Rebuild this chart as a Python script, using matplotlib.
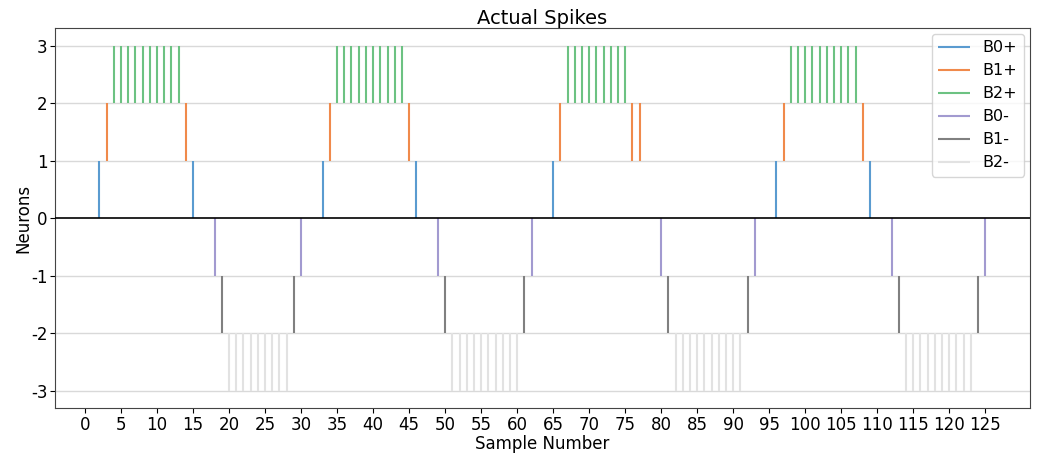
import numpy as np
import matplotlib
matplotlib.use("Agg")
import matplotlib.pyplot as plt

# spike times (sample numbers) for each neuron
b0_pos = [2, 15, 33, 46, 65, 96, 109]
b1_pos = [3, 14, 34, 45, 66, 76, 77, 97, 108]
b2_pos = list(range(4, 14)) + list(range(35, 45)) + list(range(67, 76)) + list(range(98, 108))
b0_neg = [18, 30, 49, 62, 80, 93, 112, 125]
b1_neg = [19, 29, 50, 61, 81, 92, 113, 124]
b2_neg = list(range(20, 29)) + list(range(51, 61)) + list(range(82, 92)) + list(range(114, 124))

names = ["B0+", "B1+", "B2+", "B0-", "B1-", "B2-"]
levels = [(0, 1), (1, 2), (2, 3), (0, -1), (-1, -2), (-2, -3)]
colors = ["#5a9bd0", "#f08a4b", "#6cc282", "#a29ad0", "#808080", "#e2e2e2"]
spikes = [b0_pos, b1_pos, b2_pos, b0_neg, b1_neg, b2_neg]

fig = plt.figure(figsize=(10.4, 4.57), dpi=100)
ax = fig.add_axes([0.053, 0.107, 0.937, 0.831])

for y in [-3, -2, -1, 1, 2, 3]:
    ax.axhline(y, color="#d9d9d9", lw=1, zorder=0)

for name, (lo, hi), c, s in zip(names, levels, colors, spikes):
    ax.vlines(s, lo, hi, color=c, lw=1.5, label=name)

ax.axhline(0, color="black", lw=1.2, zorder=3)

ax.set_xticks(np.arange(0, 126, 5))
ax.set_yticks([-3, -2, -1, 0, 1, 2, 3])
ax.set_yticklabels(["-3", "-2", "-1", "0", "1", "2", "3"])
ax.tick_params(labelsize=12, pad=2)
for sp in ax.spines.values():
    sp.set_color("#444444")
ax.set_title("Actual Spikes", fontsize=14, pad=3)
ax.set_xlabel("Sample Number", fontsize=12, labelpad=1)
ax.set_ylabel("Neurons", fontsize=12, labelpad=-1)
ax.legend(loc="upper right", fontsize=11.5, borderaxespad=0.35)

fig.savefig("out.png", dpi=100)
